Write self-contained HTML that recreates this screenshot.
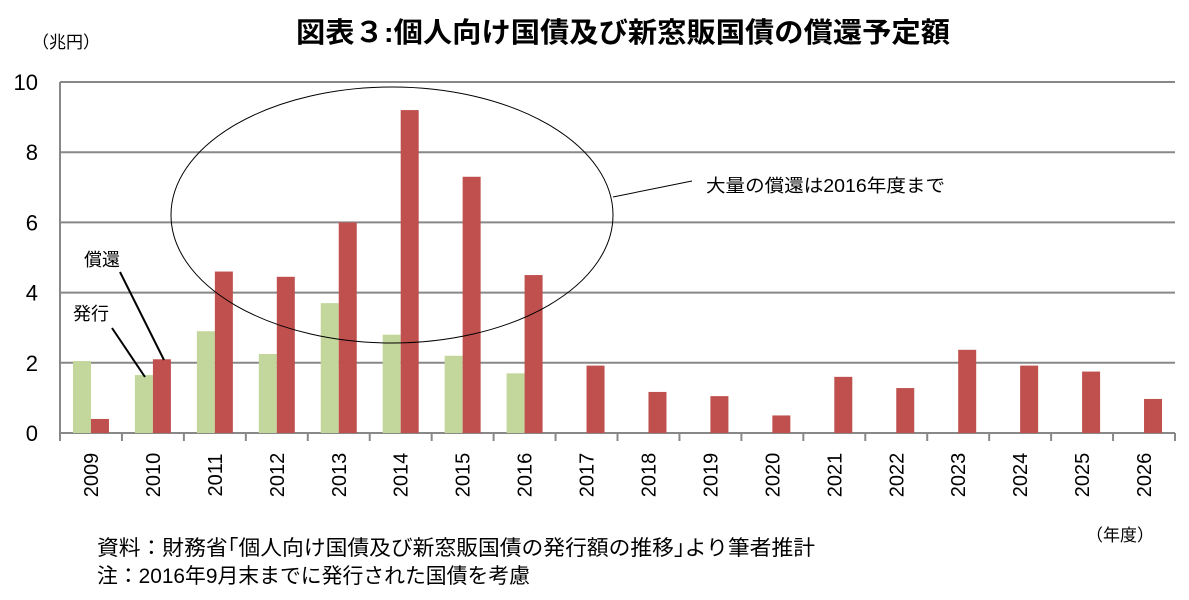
<!DOCTYPE html>
<html><head><meta charset="utf-8"><style>
body{margin:0;background:#fff;}
svg text{font-family:"Liberation Sans","Noto Sans CJK JP",sans-serif;}
</style></head><body>
<svg id="chart" width="1189" height="595" xmlns="http://www.w3.org/2000/svg">
<text x="296" y="42" textLength="654" lengthAdjust="spacingAndGlyphs" font-size="28" font-weight="bold" fill="#000">図表３:個人向け国債及び新窓販国債の償還予定額</text>
<text x="32" y="48" font-size="17" fill="#000">（兆円）</text>
<g id="grid"></g><g id="bars"></g><g id="xlabels"></g>
<ellipse cx="392" cy="215" rx="221" ry="128" fill="none" stroke="#000" stroke-width="1"/>
<line x1="613" y1="197" x2="692" y2="181" stroke="#000" stroke-width="1"/>
<text x="706" y="192" textLength="239" lengthAdjust="spacingAndGlyphs" font-size="18" fill="#000">大量の償還は2016年度まで</text>
<text x="84" y="266" font-size="18" fill="#000">償還</text>
<line x1="120" y1="272" x2="164" y2="360" stroke="#000" stroke-width="2"/>
<text x="73" y="320" font-size="18" fill="#000">発行</text>
<line x1="112" y1="328" x2="145" y2="377" stroke="#000" stroke-width="2"/>
<text x="1086" y="541" font-size="17" fill="#000">（年度）</text>
<text x="97" y="555" textLength="718" lengthAdjust="spacingAndGlyphs" font-size="21" fill="#000">資料：財務省｢個人向け国債及び新窓販国債の発行額の推移｣より筆者推計</text>
<text x="97" y="583" textLength="433" lengthAdjust="spacingAndGlyphs" font-size="21" fill="#000">注：2016年9月末までに発行された国債を考慮</text>
</svg>
<script>
const categories=["2009","2010","2011","2012","2013","2014","2015","2016","2017","2018","2019","2020","2021","2022","2023","2024","2025","2026"];
const issuance=[2.05,1.65,2.9,2.25,3.7,2.8,2.2,1.7,null,null,null,null,null,null,null,null,null,null];
const redemption=[0.4,2.1,4.6,4.45,6.0,9.2,7.3,4.5,1.92,1.17,1.05,0.5,1.6,1.28,2.37,1.92,1.75,0.97];
const yTicks=[0,2,4,6,8,10];
const NS="http://www.w3.org/2000/svg";
const L=60,R=1175,T=82,B=433,yMax=10;
const step=(R-L)/categories.length;
function y(v){return B-(v/yMax)*(B-T);}
function xc(i){return L+step*(i+0.5);}
function mk(tag,attrs,parent){const e=document.createElementNS(NS,tag);for(const k in attrs)e.setAttribute(k,attrs[k]);document.getElementById(parent).appendChild(e);return e;}
yTicks.forEach(t=>{
  const g=mk("line",{x1:L,x2:R,y1:y(t),y2:y(t),stroke:"#888","stroke-width":2},"grid");
  
  
  const tx=mk("text",{x:L-22,y:y(t)+8,"text-anchor":"end","font-size":22,fill:"#000"},"grid");
  tx.textContent=t;
  
  
});
const ax=mk("line",{x1:L,x2:L,y1:T,y2:B,stroke:"#888","stroke-width":2},"grid");


for(let i=0;i<=categories.length;i++){
  const tk=mk("line",{x1:L+step*i,x2:L+step*i,y1:B,y2:B+8,stroke:"#888","stroke-width":2},"grid");
  
  
}
const bw=18;
categories.forEach((c,i)=>{
  const cx=xc(i);
  if(issuance[i]!=null){
    const r=mk("rect",{x:cx-bw,y:y(issuance[i]),width:bw,height:B-y(issuance[i]),fill:"#c3d69b"},"bars");
    
    
  }
  const r2=mk("rect",{x:cx,y:y(redemption[i]),width:bw,height:B-y(redemption[i]),fill:"#c0504d"},"bars");
  
  
  const t=mk("text",{x:0,y:0,"font-size":20,fill:"#000","text-anchor":"middle",transform:`translate(${cx+7},${475}) rotate(-90)`},"xlabels");
  t.textContent=c;
  
  
});
</script>
</body></html>
